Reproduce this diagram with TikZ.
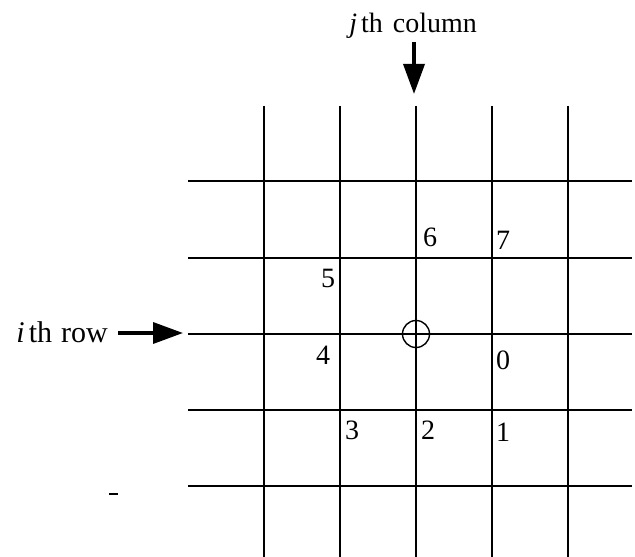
\documentclass[tikz,border=0pt]{standalone}
\usepackage{fontspec}
\setmainfont{Liberation Serif}
\usetikzlibrary{arrows.meta}
\begin{document}
\begin{tikzpicture}[x=1bp,y=-1bp,
  gridline/.style={line width=1.6bp,black},
  lbl/.style={inner sep=0pt,font=\fontsize{28bp}{32bp}\selectfont},
  biglbl/.style={inner sep=0pt,font=\fontsize{30bp}{34bp}\selectfont},
  bigarrow/.style={line width=3.5bp,-{Triangle[length=30bp,width=21bp]}}]
\useasboundingbox (0,0) rectangle (635,557);
% grid
\foreach \x/\n in {264/a,340/b,416/c,492/d,568/e}{
  \coordinate (vt\n) at (\x,106);
  \coordinate (vb\n) at (\x,557);
  \draw[gridline] (vt\n) -- (vb\n);
}
\foreach \y/\n in {181/a,258/b,334/c,410/d,486/e}{
  \coordinate (hl\n) at (188,\y);
  \coordinate (hr\n) at (632,\y);
  \draw[gridline] (hl\n) -- (hr\n);
}
% centre circle
\node[draw,circle,line width=1.4bp,minimum size=27bp,inner sep=0pt] (ctr) at (416,334) {};
% labels
\node[lbl] (n6) at (430,237) {6};
\node[lbl] (n7) at (503,240) {7};
\node[lbl] (n5) at (328,278) {5};
\node[lbl] (n4) at (323,355) {4};
\node[lbl] (n0) at (503,360) {0};
\node[lbl] (n3) at (352,430) {3};
\node[lbl] (n2) at (428,430) {2};
\node[lbl] (n1) at (503,432) {1};
% column label and arrow
\node[lbl,anchor=base east] (col) at (477,33) {\textit{j}\hspace{4bp}th\hspace{10bp}column};
\coordinate (ca) at (414,42);
\coordinate (cb) at (414,94);
\draw[bigarrow] (ca) -- (cb);
% row label and arrow
\node[biglbl,anchor=base east] (row) at (108,342) {\textit{i}\hspace{4bp}th\hspace{9bp}row};
\coordinate (ra) at (118,333);
\coordinate (rb) at (183,333);
\draw[bigarrow] (ra) -- (rb);
% stray mark
\coordinate (sa) at (109,494);
\coordinate (sb) at (118,494);
\draw[line width=2bp] (sa) -- (sb);
\end{tikzpicture}
\end{document}
